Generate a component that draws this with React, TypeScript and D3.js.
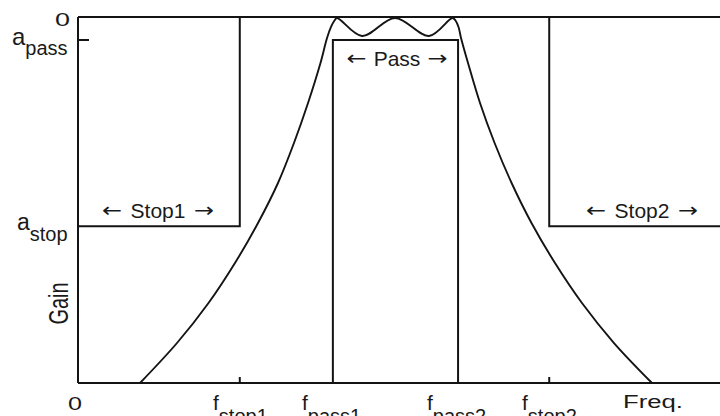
import React from "react";
import * as d3 from "d3";

// Band-pass filter response: frequency (arbitrary units) vs gain (dB)
const respFreq = [
  9.66, 15.42, 20.33, 24.45, 28.04, 31.15, 33.64, 35.83, 37.77, 38.79, 39.41, 39.95, 40.34,
  44.24, 49.38, 54.67,
  58.33, 58.8, 59.27, 59.66, 60.75, 62.62, 64.89, 67.54, 70.64, 74.3, 78.5, 83.49, 89.41,
];
const respGain = [
  -70, -62.35, -54.7, -47.05, -39.4, -31.75, -24.1, -16.45, -8.8, -4.02, -1.91, -0.67, -0.19,
  -3.63, -0.19, -3.63,
  -0.19, -0.67, -1.91, -4.02, -8.8, -16.45, -24.1, -31.75, -39.4, -47.05, -54.7, -62.35, -70,
];

// Band edges and attenuation specs
const bandNames = ["stop1", "pass1", "pass2", "stop2"];
const bandFreqs = [25.2, 39.7, 59.2, 73.4];
const aPass = -4.4;
const aStop = -40;

const freqDomain = [0, 100];
const gainDomain = [-70, 0];

const W = 720;
const H = 416;
const INK = "#141414";
const FONT = "'Liberation Sans', Arial, Helvetica, sans-serif";
const ARROW_FONT = "'DejaVu Sans', sans-serif";

function BandLabel({ cx, y, label }: { cx: number; y: number; label: string }) {
  // "← label →" with the label centred at cx
  const half = label.length * 5.6;
  return (
    <g fill="#1a1a1a">
      <text x={cx} y={y} fontSize={21} textAnchor="middle">{label}</text>
      <text
        x={cx - half - 8}
        y={y - 1}
        fontSize={20}
        fontFamily={ARROW_FONT}
        textAnchor="end"
        textLength={20}
        lengthAdjust="spacingAndGlyphs"
      >
        ←
      </text>
      <text
        x={cx + half + 8}
        y={y - 1}
        fontSize={20}
        fontFamily={ARROW_FONT}
        textAnchor="start"
        textLength={20}
        lengthAdjust="spacingAndGlyphs"
      >
        →
      </text>
    </g>
  );
}

export default function App() {
  const x = d3.scaleLinear().domain(freqDomain).range([78, 720]);
  const y = d3.scaleLinear().domain(gainDomain).range([383, 17]);

  const pts: [number, number][] = respFreq.map((f, i) => [f, respGain[i]]);
  const line = d3
    .line<[number, number]>()
    .x((d) => x(d[0]))
    .y((d) => y(d[1]))
    .curve(d3.curveCatmullRom.alpha(0.5));

  const [fs1, fp1, fp2, fs2] = bandFreqs.map((f) => x(f));
  const x0 = x(freqDomain[0]);
  const x1 = x(freqDomain[1]);
  const yTop = y(0);
  const yBot = y(gainDomain[0]);
  const yPass = y(aPass);
  const yStop = y(aStop);

  const sw = 2;

  const bottomLabelX = [213, 302, 427, 522];

  return (
    <svg
      width={W}
      height={H}
      viewBox={`0 0 ${W} ${H}`}
      style={{ position: "absolute", left: 0, top: 0, background: "#fff" }}
      fontFamily={FONT}
    >
      <rect x={0} y={0} width={W} height={H} fill="#fff" />

      {/* frame: 0 dB line, gain axis, frequency axis */}
      <g stroke={INK} strokeWidth={sw} fill="none">
        <line x1={x0} y1={yTop} x2={x1} y2={yTop} />
        <line x1={x0} y1={yTop} x2={x0} y2={yBot} />
        <line x1={x0} y1={yBot} x2={x1} y2={yBot} />
        {/* a_pass tick */}
        <line x1={x0} y1={yPass} x2={x0 + 11} y2={yPass} />
        {/* stop-band ticks */}
        <line x1={fs1} y1={yBot} x2={fs1} y2={yBot - 6} />
        <line x1={fs2} y1={yBot} x2={fs2} y2={yBot - 6} />

        {/* stop band 1 region */}
        <polyline points={`${x0},${yStop} ${fs1},${yStop} ${fs1},${yTop}`} />
        {/* stop band 2 region */}
        <polyline points={`${x1},${yStop} ${fs2},${yStop} ${fs2},${yTop}`} />
        {/* pass band region */}
        <polyline points={`${fp1},${yBot} ${fp1},${yPass} ${fp2},${yPass} ${fp2},${yBot}`} />

        {/* filter response */}
        <path d={line(pts) ?? ""} strokeWidth={1.9} strokeLinejoin="round" />
      </g>

      {/* band labels */}
      <BandLabel cx={158} y={218} label="Stop1" />
      <BandLabel cx={397} y={66} label="Pass" />
      <BandLabel cx={642} y={218} label="Stop2" />

      {/* gain axis labels */}
      <g fill="#1a1a1a">
        <text x={55} y={26} fontSize={19} textLength={15} lengthAdjust="spacingAndGlyphs">0</text>
        <text x={12} y={45} fontSize={24}>
          a<tspan fontSize={20} dy={9.5}>pass</tspan>
        </text>
        <text x={17} y={230} fontSize={23}>
          a<tspan fontSize={20} dy={11}>stop</tspan>
        </text>
        <text
          transform="translate(68,303.5) rotate(-90) scale(1,1.4)"
          fontSize={20}
          textAnchor="middle"
        >
          Gain
        </text>
      </g>

      {/* frequency axis labels */}
      <g fill="#1a1a1a">
        <text x={68} y={410} fontSize={19} textLength={14} lengthAdjust="spacingAndGlyphs">0</text>
        {bandNames.map((n, i) => (
          <text key={n} x={bottomLabelX[i]} y={410} fontSize={21}>
            f<tspan fontSize={20} dy={13}>{n}</tspan>
          </text>
        ))}
        <text x={623} y={408} fontSize={18} textLength={60} lengthAdjust="spacingAndGlyphs">Freq.</text>
      </g>
    </svg>
  );
}
